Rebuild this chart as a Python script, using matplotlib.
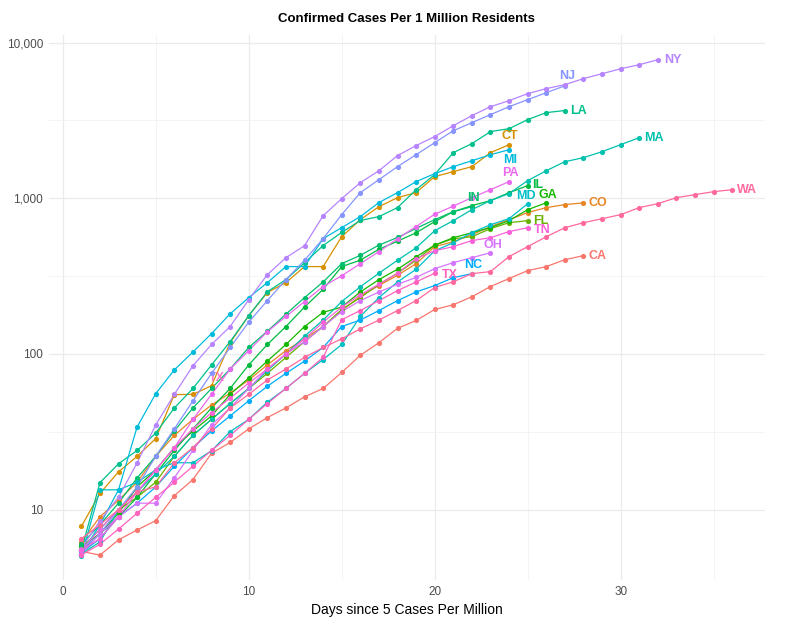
import numpy as np
import matplotlib
matplotlib.use("Agg")
import matplotlib.pyplot as plt
from matplotlib.ticker import FixedLocator, FuncFormatter, NullFormatter

plt.rcParams['font.family'] = ['Liberation Sans', 'DejaVu Sans']

# ---------------- data (cases per 1M residents, by day since 5 cases/M) -------------
CA = [5.4, 5.1, 6.4, 7.4, 8.5, 12.3, 15.6, 23, 27, 33, 39, 45, 53, 60, 76, 98, 118, 146, 164, 193,
      207, 233, 271, 305, 343, 364, 403, 428]
CO = [6.2, 9, 11.5, 15, 22, 30, 38, 47, 56, 68, 85, 105, 125, 150, 190, 235, 275, 320, 380, 489,
      526, 583, 658, 729, 809, 871, 910, 935]
CT = [7.8, 12.7, 17.5, 22, 28.6, 54.8, 55, 62.5, 118, 176, 248, 287, 364, 364, 566, 729, 883, 1009,
      1087, 1377, 1483, 1596, 1963, 2210]
FL = [5.6, 7.5, 10, 12, 15, 22, 30, 38, 48, 60, 75, 95, 120, 150, 193, 230, 280, 330, 400, 500,
      550, 566, 638, 697, 718]
GA = [5.8, 7, 9.5, 14, 18, 25, 32, 40, 55, 70, 90, 115, 150, 185, 200, 250, 300, 350, 420, 500,
      558, 601, 648, 718, 845, 935]
IL = [5.4, 7, 9, 12, 17, 24, 33, 45, 60, 85, 115, 150, 200, 260, 364, 400, 470, 530, 600, 708,
      820, 897, 966, 1087, 1205]
IN = [6, 8, 11, 16, 22, 32, 45, 60, 80, 110, 140, 180, 230, 290, 380, 430, 500, 560, 640, 729,
      820, 883]
LA = [5.5, 14.9, 19.7, 24, 31, 45, 60, 85, 120, 176, 251, 300, 385, 497, 603, 720, 762, 871, 1135,
      1419, 1963, 2244, 2680, 2800, 3200, 3550, 3660]
MA = [5.2, 6.2, 10, 13, 17, 22, 30, 38, 48, 60, 78, 100, 130, 165, 217, 270, 330, 400, 480, 619,
      718, 845, 966, 1072, 1298, 1503, 1718, 1823, 1992, 2210, 2450]
MD = [5.0, 13.4, 13.4, 15, 18, 20, 20, 23.9, 31.7, 38, 49, 60, 75, 92, 115, 174, 230, 290, 350, 460,
      518, 602, 676, 740, 923]
MI = [5.2, 8, 13.4, 34, 55.6, 79, 103, 135, 181, 230, 287, 364, 364, 550, 648, 762, 938, 1087,
      1279, 1439, 1596, 1742, 1905, 2050]
NC = [5.3, 6.5, 9, 11, 14, 19, 25, 32, 40, 50, 62, 75, 90, 110, 150, 165, 190, 220, 250, 275,
      309, 328]
NJ = [5.5, 7, 10, 14, 22, 33, 50, 75, 110, 160, 220, 300, 400, 550, 785, 1087, 1316, 1596, 1905,
      2275, 2716, 3060, 3445, 3875, 4300, 4765, 5280]
NY = [5.6, 8.5, 12, 20, 35, 55, 84, 115, 150, 223, 323, 415, 496, 773, 994, 1259, 1503, 1878, 2180,
      2490, 2925, 3395, 3875, 4235, 4700, 5060, 5370, 5870, 6310, 6790, 7210, 7760]
OH = [5.2, 7, 9, 11, 11, 16, 24, 35, 45, 60, 80, 100, 120, 150, 187, 220, 250, 280, 310, 353,
      386, 415, 447]
PA = [5.5, 7.5, 10, 13, 18, 25, 38, 55, 80, 105, 139, 174, 217, 271, 318, 380, 454, 550, 658, 790,
      890, 1009, 1135, 1280]
TN = [5.5, 6.5, 9, 13, 18, 25, 33, 42, 52, 65, 80, 100, 125, 160, 200, 240, 280, 330, 410, 460,
      489, 535, 558, 611, 647]
TX = [5.1, 6, 7.5, 9.5, 12, 15, 19, 24, 30, 38, 48, 60, 75, 95, 166, 190, 220, 255, 290, 330]
WA = [6.5, 8, 10, 13, 14, 20, 25, 33, 45, 55, 68, 80, 95, 110, 125, 145, 165, 190, 220, 267,
      291, 328, 338, 422, 489, 566, 647, 697, 739, 785, 871, 923, 1009, 1055, 1103, 1135]

states = ['CA', 'CO', 'CT', 'FL', 'GA', 'IL', 'IN', 'LA', 'MA', 'MD', 'MI', 'NC', 'NJ', 'NY',
          'OH', 'PA', 'TN', 'TX', 'WA']
series = dict(CA=CA, CO=CO, CT=CT, FL=FL, GA=GA, IL=IL, IN=IN, LA=LA, MA=MA, MD=MD, MI=MI,
              NC=NC, NJ=NJ, NY=NY, OH=OH, PA=PA, TN=TN, TX=TX, WA=WA)

# stray faded label seen in the middle of the bundle (day, value)
stray_label = ('TX', 8.3, 70)

# ---------------- styling ---------------------------------------------------------
def hcl(h, c=100, l=65):
    h = np.deg2rad(h)
    u, v = c * np.cos(h), c * np.sin(h)
    Y = ((l + 16) / 116) ** 3 if l > 8 else l / 903.3
    Xn, Yn, Zn = 0.95047, 1.0, 1.08883
    un = 4 * Xn / (Xn + 15 * Yn + 3 * Zn)
    vn = 9 * Yn / (Xn + 15 * Yn + 3 * Zn)
    up = u / (13 * l) + un
    vp = v / (13 * l) + vn
    X = Y * 9 * up / (4 * vp)
    Z = Y * (12 - 3 * up - 20 * vp) / (4 * vp)
    M = np.array([[3.2406, -1.5372, -0.4986], [-0.9689, 1.8758, 0.0415], [0.0557, -0.2040, 1.0570]])
    rgb = M @ np.array([X, Y, Z])
    rgb = np.where(rgb <= 0.0031308, 12.92 * rgb, 1.055 * np.power(np.clip(rgb, 0, None), 1 / 2.4) - 0.055)
    return tuple(np.clip(rgb, 0, 1))

hues = dict(CA=15, CO=35, CT=52, FL=112, GA=127, IL=137, IN=152, LA=166, MA=182, MD=196,
            MI=210, NC=236, NJ=263, NY=278, OH=292, PA=306, TN=322, TX=338, WA=354)

# label offsets in pixels relative to last point: (dx, dy, ha)
lab = dict(NY=(6, 0, 'left'), NJ=(2, 10, 'center'), LA=(5, 0, 'left'), CT=(1, 9, 'center'),
           MI=(1, -10, 'center'), PA=(1, 9, 'center'), MA=(5, 0, 'left'), IL=(4, 1, 'left'),
           GA=(2, 8, 'center'), MD=(-2, 8, 'center'), CO=(5, 0, 'left'), WA=(5, 0, 'left'),
           FL=(5, 0, 'left'), TN=(6, -2, 'left'), OH=(2, 8, 'center'), NC=(1, 9, 'center'),
           TX=(7, -2, 'left'), CA=(5, 0, 'left'), IN=(2, 9, 'center'))

fig = plt.figure(figsize=(8, 6.28), dpi=100)
ax = fig.add_axes([0.061, 0.0764, 0.895, 0.868])

for s in states:
    vals = series[s]
    d = np.arange(1, len(vals) + 1)
    col = hcl(hues[s])
    ax.plot(d, vals, color=col, lw=0.9, zorder=2)
    ax.scatter(d, vals, color=col, s=14, zorder=3, linewidths=0)
    dx, dy, ha = lab[s]
    ax.annotate(s, (d[-1], vals[-1]), xytext=(dx, dy), textcoords='offset pixels',
                ha=ha, va='center', color=col, fontsize=9, fontweight='bold', zorder=4)

name, sx, sy = stray_label
ax.text(sx, sy, name, color=hcl(hues[name]), alpha=0.85, fontsize=9, fontweight='bold',
        ha='center', va='center', zorder=2.5)

ax.set_yscale('log')
ax.set_xlim(-0.75, 37.75)
ax.set_ylim(3.53, 11200)
ax.yaxis.set_major_locator(FixedLocator([10, 100, 1000, 10000]))
ax.yaxis.set_minor_locator(FixedLocator([10 ** 0.5, 10 ** 1.5, 10 ** 2.5, 10 ** 3.5]))
ax.yaxis.set_major_formatter(FuncFormatter(lambda v, p: f"{int(v):,}"))
ax.yaxis.set_minor_formatter(NullFormatter())
ax.xaxis.set_major_locator(FixedLocator([0, 10, 20, 30]))
ax.xaxis.set_minor_locator(FixedLocator([5, 15, 25, 35]))

ax.grid(which='major', color='#EBEBEB', lw=0.9)
ax.grid(which='minor', color='#F2F2F2', lw=0.6)
ax.set_axisbelow(True)
for sp in ax.spines.values():
    sp.set_visible(False)
ax.tick_params(which='both', length=0, labelsize=8.5, labelcolor='#4D4D4D', pad=4)

ax.set_xlabel('Days since 5 Cases Per Million', fontsize=10, color='black', labelpad=4)
ax.set_title('Confirmed Cases Per 1 Million Residents', fontsize=9.5, fontweight='bold', pad=9)

fig.savefig('out.png', dpi=100, facecolor='white')
